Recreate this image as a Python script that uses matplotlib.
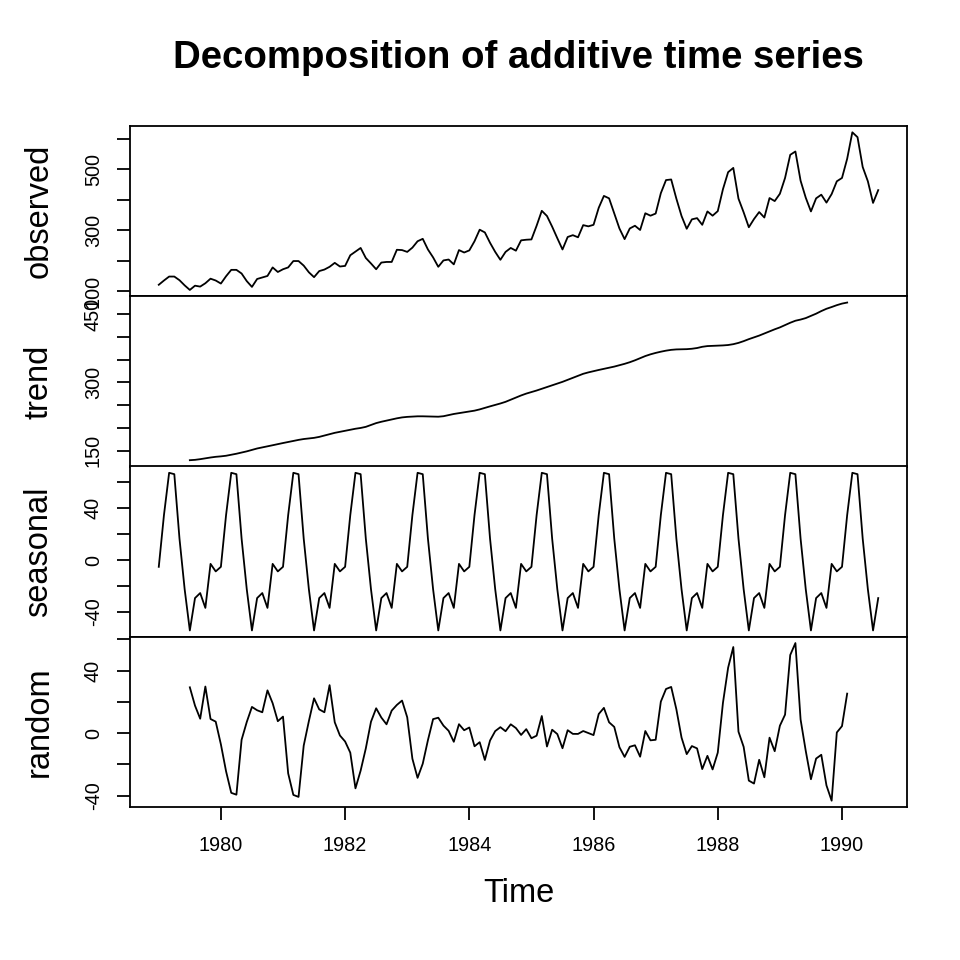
import numpy as np
import matplotlib
matplotlib.use("Agg")
import matplotlib.pyplot as plt

plt.rcParams['font.family'] = ['Liberation Sans', 'DejaVu Sans']

# ---------------- data ----------------
start_year = 1979
frequency = 12
nan = float('nan')

observed = [
    121, 135, 148, 148, 136, 119, 104, 118,
    115, 126, 141, 135, 125, 149, 170, 170, 158, 133, 114, 140,
    145, 150, 178, 163, 172, 178, 199, 199, 184, 162, 146, 166,
    171, 180, 193, 181, 183, 218, 230, 242, 209, 191, 172, 194,
    196, 196, 236, 235, 229, 243, 264, 272, 237, 211, 180, 201,
    204, 188, 235, 227, 234, 264, 302, 293, 259, 229, 203, 229,
    242, 233, 267, 269, 270, 315, 364, 347, 312, 274, 237, 278,
    284, 277, 317, 313, 318, 374, 413, 405, 355, 306, 271, 306,
    315, 301, 356, 348, 355, 422, 465, 467, 404, 347, 305, 336,
    340, 318, 362, 348, 363, 435, 491, 505, 404, 359, 310, 337,
    360, 342, 406, 396, 420, 472, 548, 559, 463, 407, 362, 405,
    417, 391, 419, 461, 472, 535, 622, 606, 508, 461, 390, 432,
]

trend = [
    nan, nan, nan, nan, nan, nan, 129.00, 129.75,
    131.25, 133.08, 134.92, 136.42, 137.42, 138.75, 140.92, 143.17, 145.71, 148.42, 151.54, 154.71,
    157.13, 159.54, 161.83, 164.13, 166.67, 169.08, 171.25, 173.58, 175.46, 176.83, 178.04, 180.17,
    183.13, 186.21, 189.04, 191.29, 193.58, 195.83, 198.04, 199.75, 202.21, 206.25, 210.42, 213.38,
    215.83, 218.50, 220.92, 222.92, 224.08, 224.71, 225.33, 225.33, 224.96, 224.58, 224.46, 225.54,
    228.00, 230.46, 232.25, 233.92, 235.63, 237.75, 240.50, 243.96, 247.17, 250.25, 253.50, 257.13,
    261.83, 266.67, 271.13, 275.21, 278.50, 281.96, 285.75, 289.33, 293.25, 297.17, 301.00, 305.46,
    309.96, 314.42, 318.63, 321.75, 324.50, 327.08, 329.54, 331.83, 334.46, 337.54, 340.54, 344.08,
    348.25, 353.00, 357.63, 361.38, 364.50, 367.17, 369.46, 371.21, 372.17, 372.42, 372.75, 373.63,
    375.25, 377.92, 379.50, 380.00, 380.71, 380.96, 381.83, 383.67, 386.50, 390.33, 394.71, 398.63,
    402.54, 407.17, 411.88, 416.33, 420.50, 425.50, 430.71, 435.13, 437.71, 440.96, 445.83, 450.63,
    456.33, 461.38, 465.21, 469.33, 472.75, 475.04, nan, nan, nan, nan, nan, nan,
]

seasonal = [
    -5.17, 34.74, 67.36, 66.30, 16.63, -22.48, -54.25, -29.28,
    -25.41, -36.85, -2.90, -8.70, -5.17, 34.74, 67.36, 66.30, 16.63, -22.48, -54.25, -29.28,
    -25.41, -36.85, -2.90, -8.70, -5.17, 34.74, 67.36, 66.30, 16.63, -22.48, -54.25, -29.28,
    -25.41, -36.85, -2.90, -8.70, -5.17, 34.74, 67.36, 66.30, 16.63, -22.48, -54.25, -29.28,
    -25.41, -36.85, -2.90, -8.70, -5.17, 34.74, 67.36, 66.30, 16.63, -22.48, -54.25, -29.28,
    -25.41, -36.85, -2.90, -8.70, -5.17, 34.74, 67.36, 66.30, 16.63, -22.48, -54.25, -29.28,
    -25.41, -36.85, -2.90, -8.70, -5.17, 34.74, 67.36, 66.30, 16.63, -22.48, -54.25, -29.28,
    -25.41, -36.85, -2.90, -8.70, -5.17, 34.74, 67.36, 66.30, 16.63, -22.48, -54.25, -29.28,
    -25.41, -36.85, -2.90, -8.70, -5.17, 34.74, 67.36, 66.30, 16.63, -22.48, -54.25, -29.28,
    -25.41, -36.85, -2.90, -8.70, -5.17, 34.74, 67.36, 66.30, 16.63, -22.48, -54.25, -29.28,
    -25.41, -36.85, -2.90, -8.70, -5.17, 34.74, 67.36, 66.30, 16.63, -22.48, -54.25, -29.28,
    -25.41, -36.85, -2.90, -8.70, -5.17, 34.74, 67.36, 66.30, 16.63, -22.48, -54.25, -29.28,
]

random_comp = [
    nan, nan, nan, nan, nan, nan, 29.25, 17.53,
    9.16, 29.76, 8.98, 7.28, -7.25, -24.49, -38.28, -39.46, -4.34, 7.07, 16.71, 14.57,
    13.28, 27.31, 19.07, 7.57, 10.50, -25.83, -39.61, -40.88, -8.09, 7.65, 22.21, 15.11,
    13.28, 30.64, 6.86, -1.60, -5.42, -12.58, -35.40, -24.05, -9.84, 7.23, 15.84, 9.90,
    5.58, 14.35, 17.98, 20.78, 10.08, -16.45, -28.69, -19.63, -4.59, 8.90, 9.80, 4.74,
    1.41, -5.61, 5.65, 1.78, 3.54, -8.49, -5.86, -17.25, -4.80, 1.23, 3.75, 1.15,
    5.58, 3.18, -1.23, 2.49, -3.33, -1.70, 10.89, -8.63, 2.12, -0.68, -9.75, 1.82,
    -0.55, -0.57, 1.28, -0.05, -1.33, 12.17, 16.10, 6.87, 3.91, -9.06, -15.29, -8.80,
    -7.84, -15.15, 1.28, -4.68, -4.33, 20.09, 28.18, 29.50, 15.20, -2.93, -13.50, -8.35,
    -9.84, -23.07, -14.60, -23.30, -12.54, 19.30, 41.81, 55.04, 0.87, -8.85, -30.46, -32.35,
    -17.13, -28.32, -2.98, -11.64, 4.67, 11.76, 49.93, 57.58, 8.66, -11.48, -29.58, -16.35,
    -13.93, -33.53, -43.31, 0.36, 4.42, 25.21, nan, nan, nan, nan, nan, nan,
]

panel_names = ["observed", "trend", "seasonal", "random"]
obs_ticks = [100, 200, 300, 400, 500, 600]
obs_labels = ["100", "", "300", "", "500", ""]
trend_ticks = [150, 200, 250, 300, 350, 400, 450]
trend_labels = ["150", "", "", "300", "", "", "450"]
seas_ticks = [-40, -20, 0, 20, 40, 60]
seas_labels = ["-40", "", "0", "", "40", ""]
rand_ticks = [-40, -20, 0, 20, 40, 60]
rand_labels = ["-40", "", "0", "", "40", ""]
x_ticks = [1980, 1982, 1984, 1986, 1988, 1990]
x_labels = ["1980", "1982", "1984", "1986", "1988", "1990"]

title = "Decomposition of additive time series"
x_title = "Time"

# ---------------- plotting ----------------
n = len(observed)
time = start_year + np.arange(n) / frequency

W = H = 960
fig = plt.figure(figsize=(9.6, 9.6), dpi=100)

left_px, right_px = 130, 907
top_px, bottom_px = 126, 807
ph = (bottom_px - top_px) / 4.0

series = [observed, trend, seasonal, random_comp]
ticks = [obs_ticks, trend_ticks, seas_ticks, rand_ticks]
labels = [obs_labels, trend_labels, seas_labels, rand_labels]

span = time[-1] - time[0]
xlim = (time[0] - 0.04 * span, time[-1] + 0.04 * span)

LW = 1.3
tick_fs = 14.3
lab_fs = 23.5

for i in range(4):
    y0 = top_px + i * ph
    ax = fig.add_axes([left_px / W, 1 - (y0 + ph) / H, (right_px - left_px) / W, ph / H])
    y = np.array(series[i], dtype=float)
    ax.plot(time, y, color='black', linewidth=LW)
    lo, hi = np.nanmin(y), np.nanmax(y)
    r = hi - lo
    ax.set_ylim(lo - 0.04 * r, hi + 0.04 * r)
    ax.set_xlim(*xlim)
    ax.set_yticks(ticks[i])
    ax.set_yticklabels(labels[i], rotation=90, va='center', fontsize=tick_fs)
    ax.tick_params(axis='y', direction='out', length=9.5, width=LW, pad=10)
    for s in ax.spines.values():
        s.set_linewidth(LW)
    if i < 3:
        ax.set_xticks([])
    else:
        ax.set_xticks(x_ticks)
        ax.set_xticklabels(x_labels, fontsize=tick_fs)
        ax.tick_params(axis='x', direction='out', length=9.5, width=LW, pad=11.5)
    fig.text(39 / W, 1 - (y0 + ph / 2) / H, panel_names[i], rotation=90,
             ha='center', va='center', fontsize=lab_fs)

fig.text((left_px + right_px) / 2 / W, 1 - 58 / H, title, ha='center', va='center',
         fontsize=27.6, fontweight='bold')
fig.text((left_px + right_px) / 2 / W, 1 - 893 / H, x_title, ha='center', va='center',
         fontsize=lab_fs)

fig.savefig("out.png", dpi=100)
